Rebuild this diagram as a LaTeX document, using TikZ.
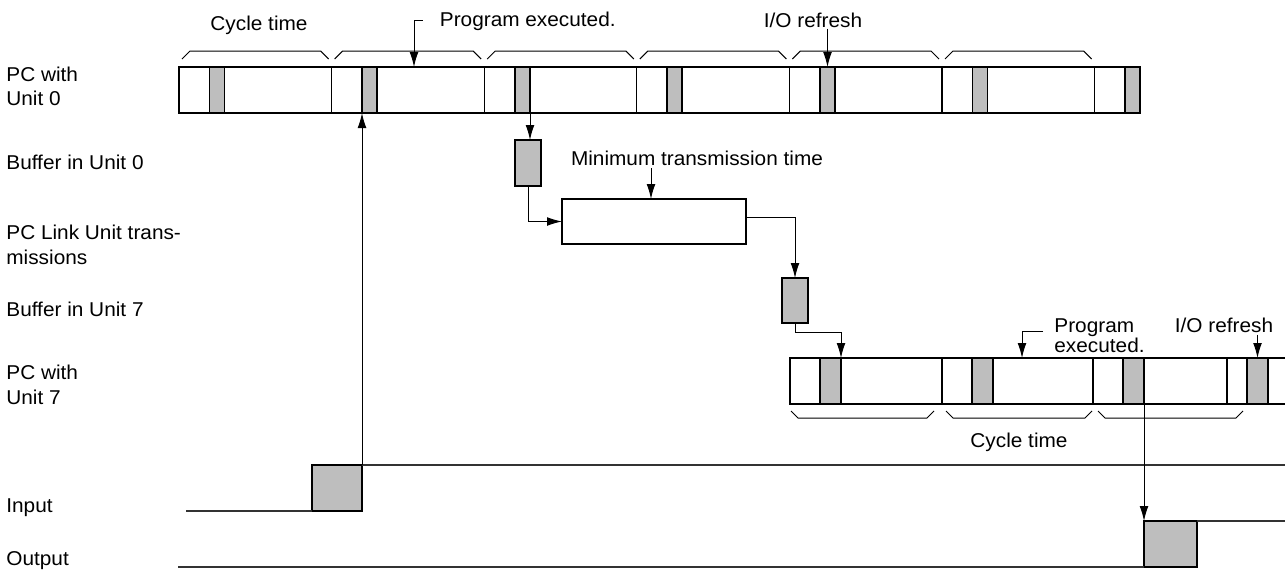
\documentclass[tikz,border=0pt]{standalone}
\usepackage{fontspec}
\setmainfont{Liberation Sans}[FakeStretch=1.04]
\usetikzlibrary{arrows.meta}
\definecolor{blk}{RGB}{190,190,190}
\newcommand\pxbox[6]{%
  \pgfmathsetmacro\pxw{(#5-#3)*0.5}%
  \pgfmathsetmacro\pxh{(#6-#4)*0.5}%
  \node[#2, minimum width=\pxw pt, minimum height=\pxh pt] (#1) at ({(#3+#5)/2},{(#4+#6)/2}) {};}
\begin{document}
\begin{tikzpicture}[x=0.5pt,y=-0.5pt, font=\fontsize{10}{12}\selectfont,
  box/.style={draw, line width=0.6pt, inner sep=0pt, outer sep=0pt},
  gbox/.style={box, fill=blk},
  divider/.style={line width=0.65pt},
  conn/.style={line width=0.5pt, -{Latex[length=7.5pt,width=4.4pt]}},
  brace/.style={line width=0.5pt},
  level/.style={line width=0.7pt, black!80},
  txt/.style={inner sep=0pt},
  lbl/.style={inner sep=0pt, anchor=base west, align=left}]
\useasboundingbox (0,0) rectangle (1285,569);

% ---------- left labels (base = last line) ----------
\node[lbl] (l1) at (6,105)  {PC with\\Unit 0};
\node[lbl] (l2) at (6,169) {Buffer in Unit 0};
\node[lbl, font=\fontsize{10}{12.5}\selectfont] (l3) at (6,264.5) {PC Link Unit trans-\\missions};
\node[lbl] (l4) at (6,316) {Buffer in Unit 7};
\node[lbl, font=\fontsize{10}{12.5}\selectfont] (l5) at (6,404) {PC with\\Unit 7};
\node[lbl] (l6) at (6,512.5) {Input};
\node[lbl] (l7) at (6,565.5) {Output};

% ---------- PC with Unit 0 ----------
\pxbox{pc0}{box}{179}{67}{1140}{113}
\foreach \s in {331.6,484.2,636.8,789.4,942,1094.6}
  \draw[divider] (\s,67) -- (\s,113);
\pxbox{g01}{gbox}{209.5}{67}{224.5}{113}
\pxbox{g02}{gbox}{362}{67}{377}{113}
\pxbox{g03}{gbox}{515}{67}{530}{113}
\pxbox{g04}{gbox}{667}{67}{682}{113}
\pxbox{g05}{gbox}{820}{67}{835}{113}
\pxbox{g06}{gbox}{972.5}{67}{987.5}{113}
\pxbox{g07}{gbox}{1125}{67}{1140}{113}
\foreach \a/\b in {182/328.6,334.6/481.2,487.2/633.8,639.8/786.4,792.4/939,945/1091.6}
  \draw[brace] (\a,59) -- ({\a+8},51) -- ({\b-8},51) -- (\b,59);

\node[txt, anchor=base] (ct0) at (259,30) {Cycle time};
\node[txt, anchor=base west] (pe0) at (439.5,26) {Program executed.};
\coordinate (pe0t) at (414,67);
\draw[conn] ([xshift=-8.5pt]pe0.west) -| (pe0t);
\node[txt, anchor=base] (io0) at (813,27) {I/O refresh};
\draw[conn] ([yshift=-0.5pt]io0.south -| g05.north) -- (g05.north);

% ---------- buffers and transmission ----------
\pxbox{buf0}{gbox}{515}{140}{541}{186}
\pxbox{tx}{box}{562}{199}{746}{244}
\pxbox{buf7}{gbox}{782}{278}{808}{323}
\draw[conn] (g03.south east) -- (g03.south east |- buf0.north);
\draw[conn] (buf0.south) |- (tx.west);
\node[txt, anchor=base] (mt) at (697,165.7) {Minimum transmission time};
\coordinate (mtt) at (651,199);
\draw[conn] ([yshift=-1pt]mt.south -| mtt) -- (mtt);
\draw[conn] ([yshift=2pt]tx.east) -| (buf7.north);

% ---------- PC with Unit 7 ----------
\pxbox{pc7}{box}{790}{358}{1268}{404}
\coordinate (pc7tr) at (1285,358);
\coordinate (pc7br) at (1285,404);
\draw[divider] (pc7.north east) -- (pc7tr);
\draw[divider] (pc7.south east) -- (pc7br);
\foreach \s in {942,1093,1227}
  \draw[divider] (\s,358) -- (\s,404);
\pxbox{g71}{gbox}{820}{358}{841}{404}
\pxbox{g72}{gbox}{972}{358}{993}{404}
\pxbox{g73}{gbox}{1123}{358}{1144}{404}
\pxbox{g74}{gbox}{1247}{358}{1268}{404}
\draw[conn] (buf7.south) -- ++(0,9) -| (g71.north east);
\foreach \a/\b in {791/934,946/1092,1098/1243}
  \draw[brace] (\a,411) -- ({\a+7},418) -- ({\b-7},418) -- (\b,411);

\node[lbl, font=\fontsize{10}{9.8}\selectfont] (pe7) at (1054,352) {Program\\executed.};
\coordinate (pe7t) at (1022,358);
\draw[conn] ([xshift=-5.5pt,yshift=2pt]pe7.west) -| (pe7t);
\node[txt, anchor=base] (io7) at (1224,332) {I/O refresh};
\draw[conn] ([yshift=-1pt]io7.south -| g74.north) -- (g74.north);
\node[txt, anchor=base] (ct7) at (1019,447) {Cycle time};

% ---------- Input / Output ----------
\pxbox{inbox}{gbox}{312}{465}{362}{511}
\coordinate (inL) at (186,511);
\coordinate (inR) at (1285,465);
\draw[level] (inL) -- (inbox.south west);
\draw[level] (inbox.north east) -- (inR);
\draw[conn] (inbox.north east) -- (inbox.north east |- pc0.south);

\pxbox{outbox}{gbox}{1144}{521}{1197}{567}
\coordinate (outL) at (178,567);
\coordinate (outR) at (1285,521);
\draw[level] (outL) -- (outbox.south west);
\draw[level] (outbox.north east) -- (outR);
\draw[conn] (g73.south east) -- (g73.south east |- outbox.north);
\end{tikzpicture}
\end{document}
